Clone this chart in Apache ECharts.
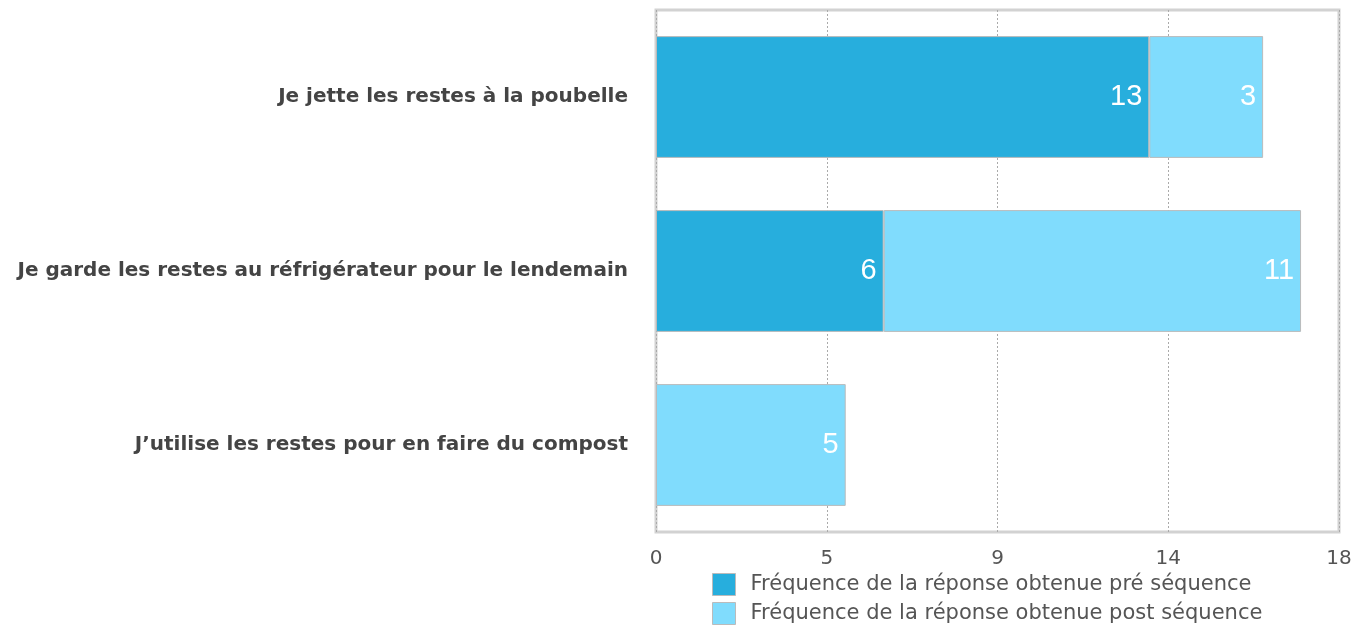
<!DOCTYPE html>
<html>
<head>
<meta charset="utf-8">
<script src="https://cdn.jsdelivr.net/npm/echarts@6/dist/echarts.min.js"></script>
<style>
    html, body { margin: 0; padding: 0; background: #fff; }
    #chart { width: 1362px; height: 628px; }
</style>
</head>
<body>
<div id="chart"></div>
<script>
// données
const categories = [
    'J\u2019utilise les restes pour en faire du compost',
    'Je garde les restes au réfrigérateur pour le lendemain',
    'Je jette les restes à la poubelle'
]
const preValues = [null, 6, 13]
const postValues = [5, 11, 3]
const seriesNames = [
    'Fréquence de la réponse obtenue pré séquence',
    'Fréquence de la réponse obtenue post séquence'
]
const colors = ['#27aedd', '#80dcfd']

const wideFont = '"DejaVu Sans", Verdana, sans-serif'
const numFont = '"Liberation Sans", Arial, sans-serif'

const labelStyle = {
    show: true,
    position: 'insideRight',
    distance: 7,
    color: '#fff',
    fontSize: 29,
    fontFamily: numFont,
    formatter: p => p.value ? p.value : ''
}

// une légende par série, empilées
const legendItem = (name, top) => ({
    orient: 'vertical',
    left: 712,
    top: top,
    padding: 0,
    icon: 'rect',
    itemWidth: 23,
    itemHeight: 22,
    itemStyle: { borderColor: '#bbb', borderWidth: 1 },
    textStyle: { color: '#555', fontSize: 21, fontFamily: wideFont, padding: [0, 0, 0, 10] },
    data: [name]
})

const chart = echarts.init(document.getElementById('chart'))
chart.setOption({
    animation: false,
    color: colors,
    grid: {
        left: 656, right: 23, top: 10, bottom: 96,
        show: true,
        borderColor: '#d2d2d2',
        borderWidth: 3,
        containLabel: false,
        outerBoundsMode: 'none'
    },
    legend: [
        legendItem(seriesNames[0], 573),
        legendItem(seriesNames[1], 602)
    ],
    xAxis: {
        type: 'value',
        min: 0,
        max: 18,
        interval: 4.5,
        axisLine: { show: false },
        axisTick: { show: false },
        axisLabel: {
            color: '#555',
            fontSize: 20,
            fontFamily: wideFont,
            margin: 17,
            formatter: v => Math.round(v)
        },
        splitLine: { show: true, lineStyle: { color: '#aaa', type: [2, 2], width: 1 } }
    },
    yAxis: {
        type: 'category',
        data: categories,
        axisLine: { show: false },
        axisTick: { show: false },
        axisLabel: {
            color: '#444',
            fontSize: 20,
            fontWeight: 'bold',
            fontFamily: wideFont,
            margin: 28
        }
    },
    series: [
        {
            name: seriesNames[0],
            type: 'bar',
            stack: 'total',
            barWidth: '70%',
            data: preValues,
            itemStyle: { borderColor: '#bbb', borderWidth: 1 },
            label: labelStyle
        },
        {
            name: seriesNames[1],
            type: 'bar',
            stack: 'total',
            barWidth: '70%',
            data: postValues,
            itemStyle: { borderColor: '#bbb', borderWidth: 1 },
            label: labelStyle
        }
    ]
})
</script>
</body>
</html>
